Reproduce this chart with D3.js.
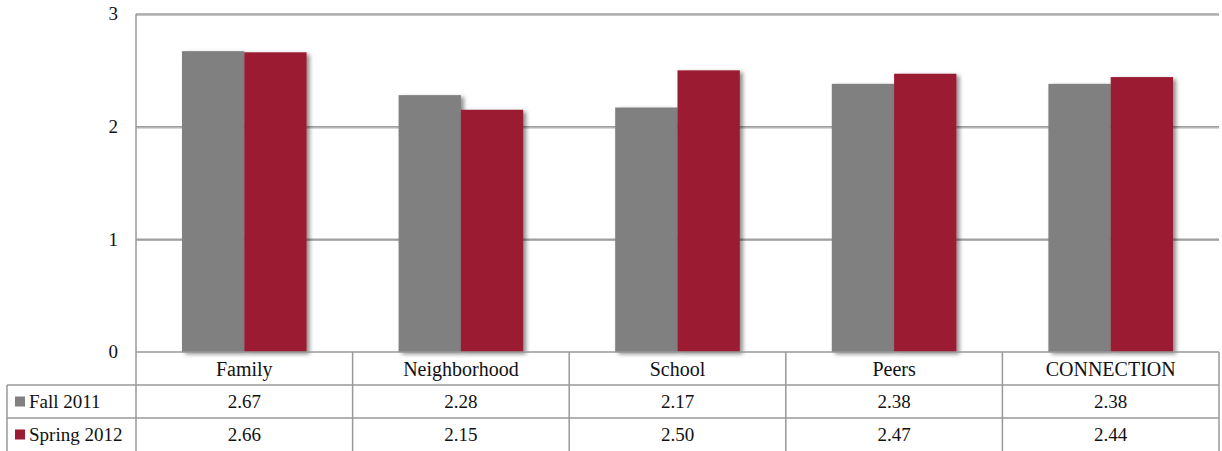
<!DOCTYPE html>
<html>
<head>
<meta charset="utf-8">
<script src="https://cdn.jsdelivr.net/npm/d3@7"></script>
<style>
  html, body { margin: 0; padding: 0; background: #fff; }
  svg { display: block; }
  svg text { font-family: "Liberation Serif", "Times New Roman", Times, "DejaVu Serif", serif; }
</style>
</head>
<body>
<svg id="chart" width="1222" height="451"></svg>
<script>
// Survey categories and mean scores per term
const categories = ["Family", "Neighborhood", "School", "Peers", "CONNECTION"];
const seriesNames = ["Fall 2011", "Spring 2012"];
const fall2011 = [2.67, 2.28, 2.17, 2.38, 2.38];
const spring2012 = [2.66, 2.15, 2.50, 2.47, 2.44];
const seriesColors = ["#808080", "#9b1b32"];
const yTicks = [0, 1, 2, 3];

const series = [fall2011, spring2012];

const W = 1222, H = 451;
const plot = { left: 136, right: 1219, top: 14, bottom: 352 };
const rowH = 33;
const tableLeft = 7;
const FS = 19;

const svg = d3.select("#chart");

// Soft shadow behind bars and gridlines
const defs = svg.append("defs");
const f = defs.append("filter").attr("id", "shadow")
  .attr("filterUnits", "userSpaceOnUse")
  .attr("x", 0).attr("y", 0).attr("width", W).attr("height", H);
f.append("feDropShadow").attr("dx", 3).attr("dy", 2).attr("stdDeviation", 2.2)
  .attr("flood-color", "#000").attr("flood-opacity", 0.45);
const g2 = defs.append("filter").attr("id", "lineshadow")
  .attr("filterUnits", "userSpaceOnUse")
  .attr("x", 0).attr("y", 0).attr("width", W).attr("height", H);
g2.append("feDropShadow").attr("dx", 0).attr("dy", 1).attr("stdDeviation", 0.6)
  .attr("flood-color", "#000").attr("flood-opacity", 0.3);

const y = d3.scaleLinear().domain([0, 3]).range([plot.bottom, plot.top]);
const x0 = d3.scaleBand().domain(categories).range([plot.left, plot.right]).paddingInner(0).paddingOuter(0);
const x1 = d3.scaleBand().domain(seriesNames).range([46, x0.bandwidth() - 46]);

// Horizontal gridlines (value 0 is drawn by the table border)
svg.append("g").selectAll("line")
  .data(yTicks.filter(d => d > 0))
  .join("line")
  .attr("x1", plot.left).attr("x2", plot.right)
  .attr("y1", d => y(d)).attr("y2", d => y(d))
  .attr("stroke", "#a0a0a0").attr("stroke-width", 1.5)
  .attr("filter", "url(#lineshadow)");

// Y tick labels
svg.append("g").selectAll("text")
  .data(yTicks)
  .join("text")
  .attr("x", 118).attr("y", d => y(d))
  .attr("dy", "0.33em")
  .attr("text-anchor", "end")
  .attr("font-size", FS)
  .attr("fill", "#111")
  .text(d => d);

// Bars
const groups = svg.append("g").selectAll("g")
  .data(categories)
  .join("g")
  .attr("transform", d => `translate(${x0(d)},0)`);

groups.selectAll("rect")
  .data((c, i) => series.map((s, k) => ({ name: seriesNames[k], value: s[i], k })))
  .join("rect")
  .attr("x", d => x1(d.name))
  .attr("width", x1.bandwidth())
  .attr("y", d => y(d.value))
  .attr("height", d => y(0) - y(d.value))
  .attr("fill", d => seriesColors[d.k])
  .attr("filter", "url(#shadow)");

// Y axis line
svg.append("line")
  .attr("x1", plot.left).attr("x2", plot.left)
  .attr("y1", plot.top).attr("y2", H)
  .attr("stroke", "#999").attr("stroke-width", 1.5);

// Data table under the chart
const table = svg.append("g");
const lineColor = "#999";
const rowTops = [plot.bottom, plot.bottom + rowH, plot.bottom + 2 * rowH, plot.bottom + 3 * rowH];

// Horizontal table rules
table.append("line").attr("x1", plot.left).attr("x2", plot.right)
  .attr("y1", rowTops[0]).attr("y2", rowTops[0])
  .attr("stroke", lineColor).attr("stroke-width", 1.5);
[1, 2].forEach(r => {
  table.append("line").attr("x1", tableLeft).attr("x2", plot.right)
    .attr("y1", rowTops[r]).attr("y2", rowTops[r])
    .attr("stroke", lineColor).attr("stroke-width", 1.5);
});

// Vertical table rules
const colEdges = categories.map(c => x0(c) + x0.bandwidth());
table.selectAll("line.col")
  .data(colEdges)
  .join("line")
  .attr("class", "col")
  .attr("x1", d => d).attr("x2", d => d)
  .attr("y1", rowTops[0]).attr("y2", H)
  .attr("stroke", lineColor).attr("stroke-width", 1.5);
table.append("line").attr("x1", tableLeft).attr("x2", tableLeft)
  .attr("y1", rowTops[1]).attr("y2", H)
  .attr("stroke", lineColor).attr("stroke-width", 1.5);

// Category header row
table.selectAll("text.cat")
  .data(categories)
  .join("text")
  .attr("class", "cat")
  .attr("x", d => x0(d) + x0.bandwidth() / 2)
  .attr("y", rowTops[0] + rowH / 2)
  .attr("dy", "0.35em")
  .attr("text-anchor", "middle")
  .attr("font-size", 20)
  .attr("fill", "#111")
  .text(d => d);

// Series rows with legend keys
series.forEach((s, k) => {
  const cy = rowTops[k + 1] + rowH / 2;
  table.append("rect")
    .attr("x", 15).attr("y", cy - 5).attr("width", 10).attr("height", 10)
    .attr("fill", seriesColors[k]);
  table.append("text")
    .attr("x", 29).attr("y", cy).attr("dy", "0.35em")
    .attr("font-size", FS).attr("fill", "#111")
    .text(seriesNames[k]);
  table.selectAll(null)
    .data(s)
    .join("text")
    .attr("x", (d, i) => x0(categories[i]) + x0.bandwidth() / 2)
    .attr("y", cy).attr("dy", "0.35em")
    .attr("text-anchor", "middle")
    .attr("font-size", FS).attr("fill", "#111")
    .text(d => d.toFixed(2));
});
</script>
</body>
</html>
